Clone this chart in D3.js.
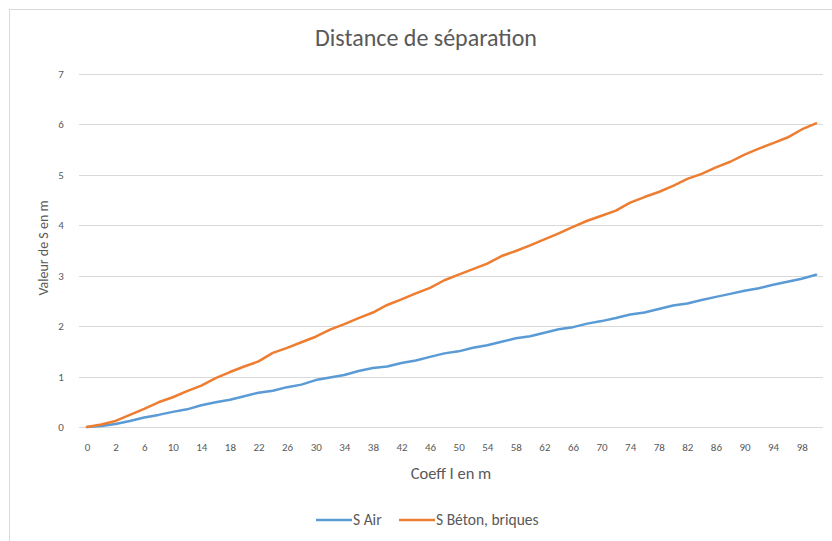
<!DOCTYPE html>
<html>
<head>
<meta charset="utf-8">
<script src="https://cdn.jsdelivr.net/npm/d3@7"></script>
<style>
  body { margin: 0; background: #fff; }
  svg text { font-family: Carlito, Lato, "Open Sans", sans-serif; fill: #595959; }
</style>
</head>
<body>
<div id="chart"></div>
<script>
const coeffI = [0, 1, 2, 4, 6, 8, 10, 12, 14, 16, 18, 20, 22, 24, 26, 28, 30, 32, 34, 36,
  38, 40, 42, 44, 46, 48, 50, 52, 54, 56, 58, 60, 62, 64, 66, 68, 70, 72, 74, 76,
  78, 80, 82, 84, 86, 88, 90, 92, 94, 96, 98, 100];

const sAir = [0, 0.02, 0.06, 0.12, 0.19, 0.24, 0.30, 0.35, 0.43, 0.49, 0.54, 0.61, 0.68,
  0.72, 0.79, 0.84, 0.93, 0.98, 1.03, 1.11, 1.17, 1.20, 1.27, 1.32, 1.39, 1.46, 1.50,
  1.57, 1.62, 1.69, 1.76, 1.80, 1.87, 1.94, 1.98, 2.05, 2.10, 2.16, 2.23, 2.27, 2.34,
  2.41, 2.45, 2.52, 2.58, 2.64, 2.70, 2.75, 2.82, 2.88, 2.94, 3.02];

const sBeton = [0, 0.05, 0.12, 0.24, 0.36, 0.49, 0.59, 0.71, 0.82, 0.97, 1.09, 1.20, 1.30,
  1.47, 1.57, 1.68, 1.79, 1.93, 2.04, 2.16, 2.27, 2.42, 2.53, 2.65, 2.76, 2.91, 3.02,
  3.13, 3.24, 3.39, 3.49, 3.60, 3.72, 3.84, 3.97, 4.09, 4.19, 4.29, 4.45, 4.56, 4.66,
  4.78, 4.92, 5.02, 5.15, 5.26, 5.40, 5.52, 5.63, 5.74, 5.90, 6.02];

const yTicks = [0, 1, 2, 3, 4, 5, 6, 7];

const series = [
  { name: "S Air", values: sAir, color: "#5b9bd5" },
  { name: "S Béton, briques", values: sBeton, color: "#ed7d31" }
];

const width = 832;
const height = 541;

const svg = d3.select("#chart").append("svg")
  .attr("width", width)
  .attr("height", height);

// chart frame
svg.append("rect")
  .attr("x", 9.5).attr("y", 9.5)
  .attr("width", 840).attr("height", 560)
  .attr("fill", "#fff")
  .attr("stroke", "#d9d9d9");

const x = d3.scalePoint().domain(d3.range(coeffI.length)).range([87, 816]);
const y = d3.scaleLinear().domain([0, 7]).range([427, 74]);

// gridlines
svg.append("g")
  .selectAll("line")
  .data(yTicks)
  .enter()
  .append("line")
  .attr("x1", 79).attr("x2", 823)
  .attr("y1", d => Math.round(y(d)) + 0.5)
  .attr("y2", d => Math.round(y(d)) + 0.5)
  .attr("stroke", "#d9d9d9")
  .attr("stroke-width", 1);

// y labels
svg.append("g")
  .selectAll("text")
  .data(yTicks)
  .enter()
  .append("text")
  .attr("x", 61)
  .attr("y", d => y(d) + 4)
  .attr("text-anchor", "middle")
  .style("font-size", "11px")
  .text(d => d);

// x axis
const xAxis = svg.append("g")
  .attr("transform", "translate(0,427)")
  .call(d3.axisBottom(x)
    .tickValues(d3.range(0, coeffI.length, 2))
    .tickSize(0)
    .tickPadding(16)
    .tickFormat(i => coeffI[i]));
xAxis.select(".domain").remove();
xAxis.selectAll("text").style("font-size", "11px").attr("fill", "#595959");

// lines
const line = d3.line()
  .x((d, i) => x(i))
  .y(d => y(d));

svg.append("g")
  .selectAll("path")
  .data(series)
  .enter()
  .append("path")
  .attr("d", d => line(d.values))
  .attr("fill", "none")
  .attr("stroke", d => d.color)
  .attr("stroke-width", 2.5)
  .attr("stroke-linejoin", "round")
  .attr("stroke-linecap", "round");

// titles
svg.append("text")
  .attr("x", 426).attr("y", 46)
  .attr("text-anchor", "middle")
  .style("font-size", "24px")
  .text("Distance de séparation");

svg.append("text")
  .attr("x", 451).attr("y", 479)
  .attr("text-anchor", "middle")
  .style("font-size", "16.5px")
  .text("Coeff I en m");

svg.append("text")
  .attr("transform", "translate(48,248) rotate(-90)")
  .attr("text-anchor", "middle")
  .style("font-size", "14px")
  .text("Valeur de S en m");

// legend
const legendX = [316, 399];
const legend = svg.append("g")
  .selectAll("g")
  .data(series)
  .enter()
  .append("g")
  .attr("transform", (d, i) => `translate(${legendX[i]},520)`);

legend.append("line")
  .attr("x1", 0).attr("x2", 36)
  .attr("stroke", d => d.color)
  .attr("stroke-width", 2.5);

legend.append("text")
  .attr("x", 37).attr("y", 5)
  .style("font-size", "15.5px")
  .text(d => d.name);
</script>
</body>
</html>
